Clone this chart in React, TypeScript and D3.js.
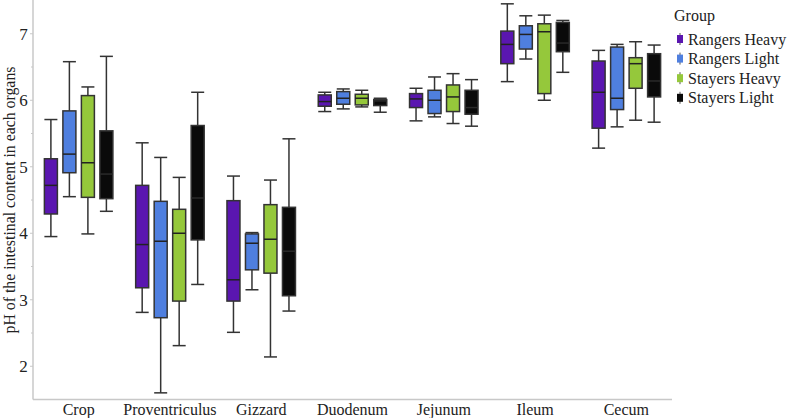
import React from 'react';
import * as d3 from 'd3';

// organs along the x axis
const organs = ['Crop', 'Proventriculus', 'Gizzard', 'Duodenum', 'Jejunum', 'Ileum', 'Cecum'];
const groups = ['Rangers Heavy', 'Rangers Light', 'Stayers Heavy', 'Stayers Light'];
const groupColors = ['#5a16b0', '#4f7fdf', '#95c83b', '#0a0a0a'];

// [min, q1, median, q3, max] per organ
const rangersHeavy = [
  [3.95, 4.29, 4.72, 5.12, 5.71],
  [2.81, 3.18, 3.83, 4.72, 5.36],
  [2.51, 2.98, 3.3, 4.49, 4.86],
  [5.83, 5.91, 5.98, 6.08, 6.12],
  [5.69, 5.89, 6.02, 6.1, 6.18],
  [6.28, 6.55, 6.84, 7.04, 7.45],
  [5.28, 5.58, 6.12, 6.59, 6.75],
];
const rangersLight = [
  [4.55, 4.91, 5.19, 5.84, 6.58],
  [1.6, 2.73, 3.88, 4.48, 5.14],
  [3.15, 3.45, 3.85, 3.99, 4.01],
  [5.87, 5.94, 6.03, 6.13, 6.17],
  [5.75, 5.8, 6.0, 6.15, 6.35],
  [6.62, 6.77, 6.99, 7.12, 7.27],
  [5.6, 5.86, 6.03, 6.8, 6.84],
];
const stayersHeavy = [
  [3.99, 4.54, 5.06, 6.07, 6.2],
  [2.31, 2.98, 4.0, 4.36, 4.84],
  [2.14, 3.4, 3.91, 4.43, 4.8],
  [5.9, 5.93, 6.03, 6.09, 6.15],
  [5.65, 5.83, 6.05, 6.23, 6.4],
  [6.0, 6.1, 7.03, 7.15, 7.28],
  [5.7, 6.18, 6.55, 6.64, 6.88],
];
const stayersLight = [
  [4.33, 4.52, 4.89, 5.54, 6.66],
  [3.23, 3.9, 4.53, 5.62, 6.12],
  [2.83, 3.06, 3.73, 4.39, 5.42],
  [5.82, 5.92, 5.99, 6.01, 6.03],
  [5.61, 5.79, 5.89, 6.15, 6.31],
  [6.42, 6.73, 6.86, 7.17, 7.2],
  [5.67, 6.05, 6.29, 6.7, 6.83],
];
const seriesData = [rangersHeavy, rangersLight, stayersHeavy, stayersLight];

const yTicks = [2, 3, 4, 5, 6, 7];
const yMinorTicks = [2.5, 3.5, 4.5, 5.5, 6.5];

const W = 787;
const H = 418;
const font = '"Liberation Serif", "Times New Roman", serif';

export default function App() {
  const left = 33;
  const right = 672;
  const bottom = 399.5;
  const y = d3.scaleLinear().domain([1.5, 7.5]).range([bottom, 0.5]);
  const x = d3.scaleBand().domain(organs).range([left, right]);
  const xi = d3.scaleBand().domain(groups).range([-37, 37]);
  const boxW = 13;
  const stroke = '#333';

  return (
    <svg width={W} height={H} style={{ position: 'absolute', left: 0, top: 0, background: '#fff' }} fontFamily={font}>
      {/* axes */}
      <line x1={left} x2={left} y1={0} y2={bottom} stroke="#c8c8c8" strokeWidth={1.5} />
      <line x1={left} x2={right} y1={bottom} y2={bottom} stroke="#c8c8c8" strokeWidth={1.5} />
      {yTicks.map(t => (
        <g key={t}>
          <line x1={left - 3} x2={left} y1={y(t)} y2={y(t)} stroke="#c8c8c8" />
          <text x={23.5} y={y(t)} dy="0.35em" textAnchor="middle" fontSize={17} fill="#222">{t}</text>
        </g>
      ))}
      {yMinorTicks.map(t => (
        <line key={t} x1={left - 2} x2={left} y1={y(t)} y2={y(t)} stroke="#c8c8c8" />
      ))}
      <text transform={`translate(15,200) rotate(-90)`} textAnchor="middle" fontSize={15.8} fill="#222">
        pH of the intestinal content in each organs
      </text>
      {organs.map(o => (
        <text key={o} x={(x(o) as number) + x.bandwidth() / 2} y={415} textAnchor="middle" fontSize={16} fill="#222">{o}</text>
      ))}

      {/* boxes */}
      {organs.map((o, oi) => (
        <g key={o} transform={`translate(${(x(o) as number) + x.bandwidth() / 2},0)`}>
          {groups.map((g, gi) => {
            const [lo, q1, med, q3, hi] = seriesData[gi][oi];
            const cx = (xi(g) as number) + xi.bandwidth() / 2;
            return (
              <g key={g}>
                <line x1={cx} x2={cx} y1={y(hi)} y2={y(q3)} stroke={stroke} strokeWidth={1.5} />
                <line x1={cx} x2={cx} y1={y(q1)} y2={y(lo)} stroke={stroke} strokeWidth={1.5} />
                <line x1={cx - boxW / 2} x2={cx + boxW / 2} y1={y(hi)} y2={y(hi)} stroke={stroke} strokeWidth={1.5} />
                <line x1={cx - boxW / 2} x2={cx + boxW / 2} y1={y(lo)} y2={y(lo)} stroke={stroke} strokeWidth={1.5} />
                <rect x={cx - boxW / 2} y={y(q3)} width={boxW} height={y(q1) - y(q3)} fill={groupColors[gi]} stroke={stroke} strokeWidth={1.5} />
                <line x1={cx - boxW / 2} x2={cx + boxW / 2} y1={y(med)} y2={y(med)} stroke={gi === 3 ? '#2a2a2a' : '#222'} strokeWidth={1.5} />
              </g>
            );
          })}
        </g>
      ))}

      {/* legend */}
      <text x={674} y={21} fontSize={16} fill="#222">Group</text>
      {groups.map((g, gi) => {
        const ly = 39 + gi * 19.6;
        return (
          <g key={g}>
            <line x1={680} x2={680} y1={ly - 6} y2={ly + 6} stroke="#555" strokeWidth={1} />
            <rect x={677} y={ly - 4} width={6} height={8} fill={groupColors[gi]} />
            <text x={688} y={ly} dy="0.35em" fontSize={16} fill="#222">{g}</text>
          </g>
        );
      })}
    </svg>
  );
}
